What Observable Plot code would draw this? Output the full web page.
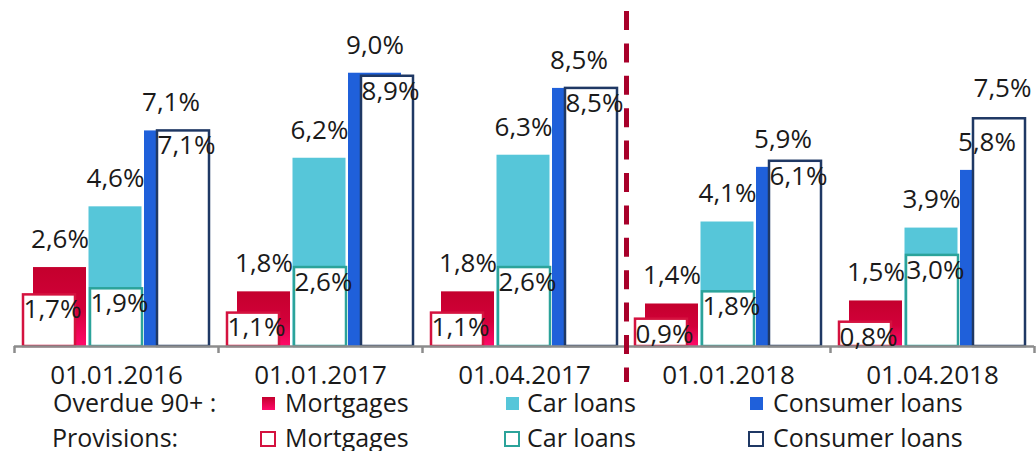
<!DOCTYPE html>
<html><head><meta charset="utf-8">
<script src="https://cdn.jsdelivr.net/npm/d3@7"></script>
<script src="https://cdn.jsdelivr.net/npm/@observablehq/plot@0.6"></script>
<style>
body{margin:0;background:#fff;font-family:"Open Sans",sans-serif;color:#1a1a1a}
#wrap{position:relative;width:1036px;height:451px;overflow:hidden}
#legend{position:relative;height:66px}
.lab{position:absolute;font-size:25px;line-height:20px;white-space:nowrap;color:#1a1a1a}
.sw{position:absolute;box-sizing:border-box}
</style></head><body><div id="wrap"><div id="chart"></div><div id="legend"></div></div>
<script>
// ---- data ----
const dates = ["01.01.2016","01.01.2017","01.04.2017","01.01.2018","01.04.2018"];
const categories = ["Mortgages","Car loans","Consumer loans"];
const overdueMortgages = [2.6,1.8,1.8,1.4,1.5];
const overdueCar       = [4.6,6.2,6.3,4.1,3.9];
const overdueConsumer  = [7.1,9.0,8.5,5.9,5.8];
const provMortgages    = [1.7,1.1,1.1,0.9,0.8];
const provCar          = [1.9,2.6,2.6,1.8,3.0];
const provConsumer     = [7.1,8.9,8.5,6.1,7.5];
const breakBefore = "01.01.2018";
const seriesLabels = ["Overdue 90+ :","Provisions:"];

// ---- styles / layout ----
const fillColors = ["url(#mortGrad)","#56C6D9","#1F60DA"];
const strokeColors = ["#D4123F","#2BA39A","#1F3864"];
const G = 204;
const layOverdue = {start:19, step:55.5, width:53};
const layProv = {start:9, step:67, width:52};

function build(series, arrays, lay){
  const out = [];
  arrays.forEach((arr,c)=>arr.forEach((v,d)=>{
    const x1 = d + (lay.start + c*lay.step)/G;
    out.push({series, c, cat:categories[c], date:dates[d], d, value:v,
      x1, x2: x1 + lay.width/G, xc: x1 + lay.width/(2*G)});
  }));
  return out;
}
const overdue = build("overdue",[overdueMortgages,overdueCar,overdueConsumer],layOverdue);
const prov = build("prov",[provMortgages,provCar,provConsumer],layProv);
const ovLookup = new Map(overdue.map(o=>[o.c+"|"+o.d,o.value]));
const provAbove = prov.filter(p=>p.value > ovLookup.get(p.c+"|"+p.d) + 1);
const provInside = prov.filter(p=>!(p.value > ovLookup.get(p.c+"|"+p.d) + 1));
const fmt = d => d.value.toFixed(1).replace(".",",") + "%";
const txt = "#1a1a1a";

const marks = [];
categories.forEach((cat,c)=>{
  marks.push(Plot.rect(overdue.filter(o=>o.c===c),{x1:"x1",x2:"x2",y1:0,y2:"value",fill:fillColors[c]}));
});
categories.forEach((cat,c)=>{
  marks.push(Plot.rect(prov.filter(o=>o.c===c),{x1:"x1",x2:"x2",y1:0,y2:"value",fill:"white",stroke:strokeColors[c],strokeWidth:2.5}));
});
marks.push(
  Plot.ruleY([0],{stroke:"#8C8C8C",strokeWidth:2.5}),
  Plot.ruleX(d3.range(dates.length+1),{x:d=>d,y1:0,y2:0,insetBottom:-7,stroke:"#8C8C8C",strokeWidth:2.5}),
  Plot.ruleX([dates.indexOf(breakBefore)],{x:d=>d,stroke:"#A8002A",strokeWidth:5,strokeDasharray:"19,13.4",insetTop:-1,insetBottom:-36}),
  Plot.text(overdue,{x:"xc",y:"value",text:fmt,dy:-28,lineAnchor:"middle",fontSize:26,fill:txt}),
  Plot.text(provInside,{x:"xc",y:"value",text:fmt,dx:3,dy:15,lineAnchor:"middle",fontSize:26,fill:txt}),
  Plot.text(provAbove,{x:"xc",y:"value",text:fmt,dx:3,dy:-30,lineAnchor:"middle",fontSize:26,fill:txt}),
  Plot.text(dates,{x:(d,i)=>i+0.5,frameAnchor:"bottom",dy:29,lineAnchor:"middle",fontSize:26,fill:txt})
);

const chart = Plot.plot({
  width:1036, height:385,
  marginLeft:14, marginRight:2, marginTop:12, marginBottom:39,
  x:{domain:[0,dates.length], axis:null},
  y:{domain:[0,11], axis:null},
  style:{fontFamily:"'Open Sans', sans-serif", background:"white", overflow:"visible"},
  marks
});
document.getElementById("chart").appendChild(chart);
const svg = chart.tagName.toLowerCase()==="svg" ? chart : chart.querySelector("svg");
const defs = d3.select(svg).insert("defs",":first-child");
const grad = defs.append("linearGradient").attr("id","mortGrad").attr("x1",0).attr("y1",0).attr("x2",0).attr("y2",1);
grad.append("stop").attr("offset","0").attr("stop-color","#C4002D");
grad.append("stop").attr("offset","0.55").attr("stop-color","#D3003A");
grad.append("stop").attr("offset","1").attr("stop-color","#FF0A6A");

// ---- legend ----
const legend = d3.select("#legend");
const rowTop = [7.3, 42.3];
const swX = [262, 506, 750];
const labX = [285, 527, 773];
seriesLabels.forEach((s,r)=>{
  legend.append("div").attr("class","lab").style("left",(r===0?53:52)+"px").style("top",rowTop[r]+"px").text(s);
  categories.forEach((cat,c)=>{
    const sw = legend.append("div").attr("class","sw");
    if(r===0){
      sw.style("left",swX[c]+"px").style("top","12px").style("width","13px").style("height","13px")
        .style("background", c===0 ? "linear-gradient(#C4002D,#FF0A6A)" : fillColors[c]);
    } else {
      sw.style("left",(swX[c]-2)+"px").style("top","46px").style("width","16px").style("height","16px")
        .style("border","2.5px solid "+strokeColors[c]).style("background","white");
    }
    legend.append("div").attr("class","lab").style("left",labX[c]+"px").style("top",rowTop[r]+"px").text(cat);
  });
});
</script></body></html>
